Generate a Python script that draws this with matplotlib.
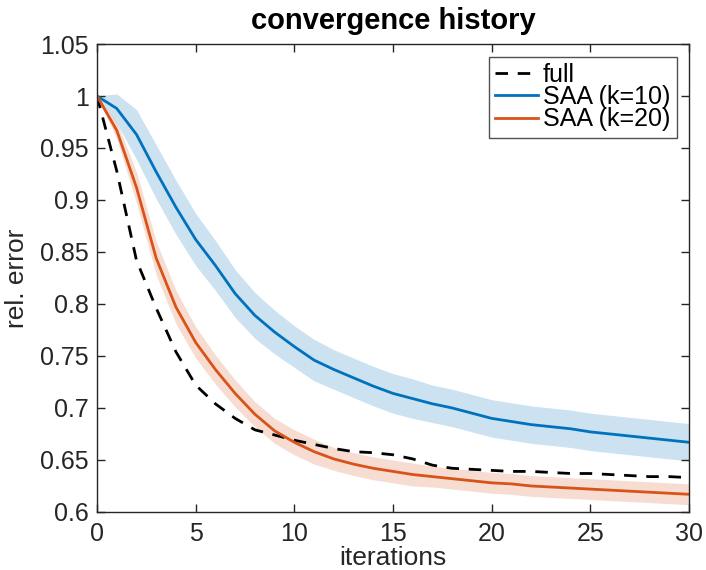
import matplotlib
matplotlib.use("Agg")
import matplotlib.pyplot as plt
import numpy as np

plt.rcParams['font.family'] = ['Liberation Sans', 'DejaVu Sans']

# iteration index 0..30
iters = list(range(31))

full_err = [1.000, 0.928, 0.842, 0.796, 0.754, 0.722, 0.704, 0.690, 0.679, 0.674,
            0.669, 0.665, 0.661, 0.658, 0.657, 0.655, 0.651, 0.645, 0.642, 0.641,
            0.640, 0.639, 0.639, 0.638, 0.637, 0.637, 0.636, 0.635, 0.634, 0.634,
            0.633]

saa10_mean = [1.000, 0.988, 0.963, 0.927, 0.893, 0.862, 0.837, 0.810, 0.789, 0.773,
              0.759, 0.746, 0.737, 0.729, 0.721, 0.714, 0.709, 0.704, 0.700, 0.695,
              0.690, 0.687, 0.684, 0.682, 0.680, 0.677, 0.675, 0.673, 0.671, 0.669,
              0.667]
saa10_std = [0.000, 0.014, 0.024, 0.026, 0.026, 0.025, 0.024, 0.023, 0.022, 0.021,
             0.020, 0.020, 0.019, 0.019, 0.019, 0.019, 0.019, 0.018, 0.018, 0.018,
             0.018, 0.018, 0.018, 0.018, 0.018, 0.018, 0.018, 0.018, 0.018, 0.018,
             0.018]

saa20_mean = [1.000, 0.967, 0.912, 0.844, 0.797, 0.763, 0.737, 0.714, 0.694, 0.678,
              0.667, 0.658, 0.651, 0.646, 0.642, 0.639, 0.636, 0.634, 0.632, 0.630,
              0.628, 0.627, 0.625, 0.624, 0.623, 0.622, 0.621, 0.620, 0.619, 0.618,
              0.617]
saa20_std = [0.000, 0.008, 0.015, 0.016, 0.016, 0.015, 0.014, 0.013, 0.012, 0.012,
             0.012, 0.012, 0.011, 0.011, 0.011, 0.011, 0.011, 0.010, 0.010, 0.010,
             0.010, 0.010, 0.010, 0.010, 0.010, 0.010, 0.010, 0.010, 0.010, 0.010,
             0.010]

blue = '#0072BD'
orange = '#D95319'

fig = plt.figure(figsize=(7.06, 5.70), dpi=100)
ax = fig.add_axes([0.1374, 0.1018, 0.8386, 0.821])

x = np.array(iters)
m10, s10 = np.array(saa10_mean), np.array(saa10_std)
m20, s20 = np.array(saa20_mean), np.array(saa20_std)

# shaded +/- std bands
ax.fill_between(x, m10 - s10, m10 + s10, color=blue, alpha=0.2, linewidth=0)
ax.fill_between(x, m20 - s20, m20 + s20, color=orange, alpha=0.2, linewidth=0)

ax.plot(x, full_err, '--', color='black', linewidth=2.0, dashes=(4.5, 3.5), label='full')
ax.plot(x, m10, '-', color=blue, linewidth=2.0, label='SAA (k=10)')
ax.plot(x, m20, '-', color=orange, linewidth=2.0, label='SAA (k=20)')

ax.set_xlim(0, 30)
ax.set_ylim(0.6, 1.05)
ax.set_xticks([0, 5, 10, 15, 20, 25, 30])
ax.set_yticks([0.6, 0.65, 0.7, 0.75, 0.8, 0.85, 0.9, 0.95, 1.0, 1.05])
ax.set_yticklabels(['0.6', '0.65', '0.7', '0.75', '0.8', '0.85', '0.9', '0.95', '1', '1.05'])
ax.tick_params(direction='in', top=True, right=True, length=6, width=1.0,
               labelsize=18, colors='#262626')
ax.tick_params(axis='y', pad=6)
ax.tick_params(axis='x', pad=7)
for sp in ax.spines.values():
    sp.set_color('#262626')
    sp.set_linewidth(1.0)

ax.set_xlabel('iterations', fontsize=19, color='#262626', labelpad=0)
ax.set_ylabel('rel. error', fontsize=19, color='#262626', labelpad=8)
ax.set_title('convergence history', fontsize=21, fontweight='bold', pad=11)

leg = ax.legend(loc='upper right', fontsize=18, frameon=True, fancybox=False,
                edgecolor='#262626', handlelength=1.7, handletextpad=0.2,
                borderpad=0.25, labelspacing=-0.07, borderaxespad=0.5)
leg.get_frame().set_linewidth(1.0)

fig.savefig('out.png', dpi=100)
